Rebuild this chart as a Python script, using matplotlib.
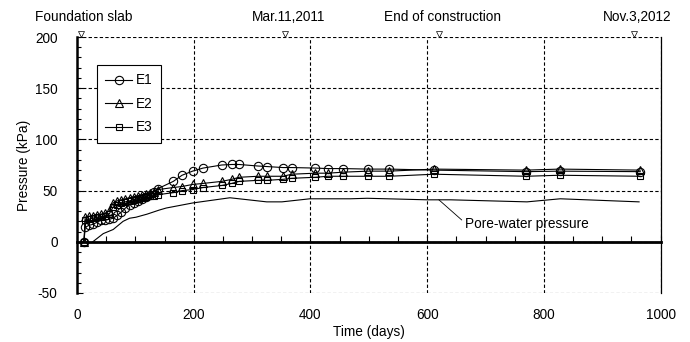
import numpy as np
import matplotlib.pyplot as plt
from matplotlib.ticker import MultipleLocator

plt.rcParams['font.family'] = ['Liberation Sans', 'DejaVu Sans']
plt.rcParams['font.size'] = 9.8
plt.rcParams['axes.unicode_minus'] = False

# measured earth pressure, cells E1-E3
days = [12, 14, 20, 27, 34, 41, 48, 55, 62, 69, 76, 83, 90, 97, 104, 111, 118, 125, 132, 139,
        165, 180, 198, 216, 248, 265, 278, 310, 325, 353, 368, 408, 430, 456, 499, 535, 612,
        770, 827, 965]
e1 = [0, 14, 16, 17, 19, 21, 21, 22, 23, 26, 29, 33, 36, 38, 40, 42, 44, 46, 49, 52,
      59, 65, 69, 72, 75, 75.5, 75.5, 74, 73.5, 72.5, 72.5, 72, 71.5, 71.5, 71, 71, 70,
      68.5, 69, 68.5]
e2 = [0, 24, 25, 25, 26, 27, 28, 30, 38, 40, 41, 42, 43, 44, 45, 46, 47, 48, 49, 51,
      53, 54, 56, 57, 59, 61, 63, 64, 64, 64, 66, 67, 67, 68, 69, 69, 71,
      70, 71, 70]
e3 = [0, 21, 22, 23, 24, 24, 25, 27, 34, 36, 38, 39, 40, 41, 42, 43, 44, 45, 45, 46,
      48, 50, 51, 53, 55, 57, 59, 60, 60, 61, 62, 63, 64, 64, 64, 64, 66,
      64, 65, 64]

# pore-water pressure
pw_days = [27, 45, 62, 79, 90, 101, 120, 141, 153, 199, 262, 325, 351, 399, 468, 497, 600,
           640, 771, 828, 963]
pw = [0, 8, 12, 20, 23, 24, 27, 31, 33, 38, 43, 39, 39, 42, 42, 42.5, 41, 41, 39, 42, 39]

# events marked along the top
event_days = [6, 357, 621, 955]
event_labels = ['Foundation slab', 'Mar.11,2011', 'End of construction', 'Nov.3,2012']

fig = plt.figure(figsize=(6.9, 3.42), dpi=100)
ax = fig.add_axes([0.1116, 0.1433, 0.8459, 0.7485])

ax.plot(days, e1, '-o', color='black', lw=0.8, ms=6, mfc='none', mew=0.8, label='E1')
ax.plot(days, e2, '-^', color='black', lw=0.8, ms=6, mfc='none', mew=0.8, label='E2')
ax.plot(days, e3, '-s', color='black', lw=0.8, ms=5, mfc='none', mew=0.8, label='E3')
ax.plot(pw_days, pw, '-', color='black', lw=0.8)

ax.annotate('Pore-water pressure', xy=(620, 41), xytext=(664, 17.5),
            ha='left', va='center',
            arrowprops=dict(arrowstyle='-', color='black', lw=0.6, shrinkA=0, shrinkB=0,
                            relpos=(0, 0.6)))

ax.set_xlim(0, 1000)
ax.set_ylim(-50, 200)

# grid
ax.set_xticks([0, 200, 400, 600, 800, 1000])
ax.set_yticks([-50, 0, 50, 100, 150, 200])
ax.grid(True, color='black', lw=0.8, linestyle=(0, (3, 2)))

# spines: thick left, thin right, dashed top/bottom from grid
ax.spines['left'].set_linewidth(1.8)
ax.spines['right'].set_linewidth(0.9)
ax.spines['top'].set_visible(False)
ax.spines['bottom'].set_position(('data', 0))
ax.spines['bottom'].set_linewidth(2.0)
ax.spines['bottom'].set_zorder(1)

ax.xaxis.set_minor_locator(MultipleLocator(50))
ax.tick_params(axis='x', which='both', direction='in', length=4, width=0.8,
               labelbottom=False)
ax.yaxis.set_minor_locator(MultipleLocator(10))
ax.tick_params(axis='y', which='major', direction='in', length=4, width=0.8, pad=14)
ax.tick_params(axis='y', which='minor', direction='in', length=3, width=0.8)

# x labels under the frame
sec = ax.secondary_xaxis(0.0)
sec.set_xticks([0, 200, 400, 600, 800, 1000])
sec.tick_params(length=0, pad=11)
sec.spines['bottom'].set_visible(False)
sec.set_xlabel('Time (days)', labelpad=2)

ax.set_ylabel('Pressure (kPa)', labelpad=3)

# event markers and labels
ax.plot(event_days, [203] * len(event_days), 'v', color='black', mfc='white',
        ms=4.5, mew=0.5, clip_on=False)
for d, lab in zip(event_days, event_labels):
    ax.annotate(lab, xy=(d, 1), xycoords=('data', 'axes fraction'),
                xytext=(2, 14.5), textcoords='offset points', ha='center', va='center')

leg = ax.legend(loc='upper left', bbox_to_anchor=(0.034, 0.89), borderaxespad=0,
                fancybox=False, edgecolor='black', framealpha=1, handlelength=2.0,
                labelspacing=0.7, handletextpad=0.3, borderpad=0.6)
leg.get_frame().set_linewidth(0.8)

fig.savefig('out.png', dpi=100)
